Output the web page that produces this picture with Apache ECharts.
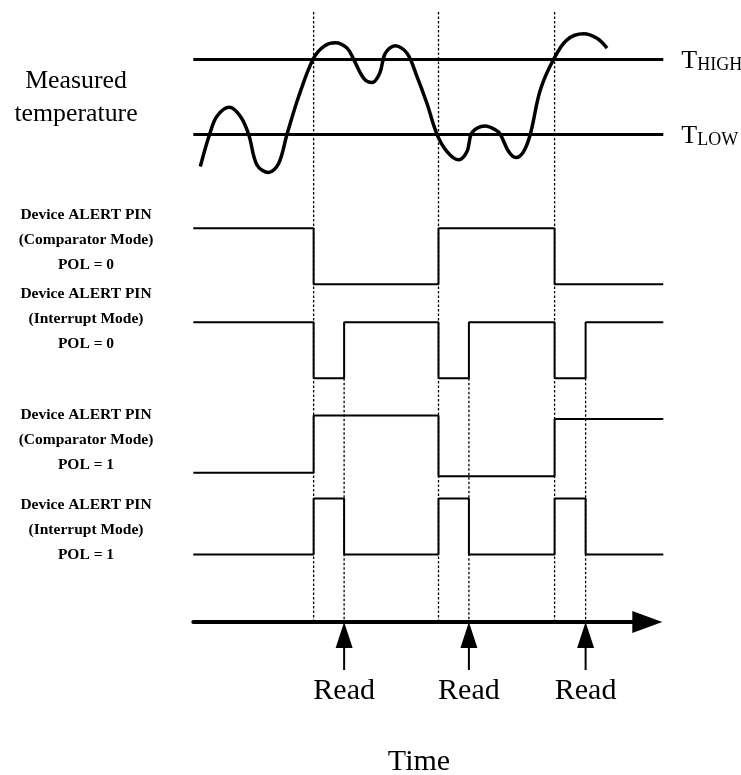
<!DOCTYPE html>
<html><head><meta charset="utf-8">
<script src="https://cdn.jsdelivr.net/npm/echarts@6/dist/echarts.min.js"></script>
<style>html,body{margin:0;padding:0;background:#fff;} #c{width:741px;height:775px;}</style>
</head><body><div id="c"></div>
<script>
// ---- data (time in arbitrary units 0..100) ----
const eventTimes = [25.6, 52.17, 76.87];      // temperature crosses a threshold
const readTimes  = [32.09, 58.64, 83.47];     // host reads the device
const readLabels = ['Read', 'Read', 'Read'];
const thresholdValues = [30, 20];
const thresholdNames  = ['HIGH', 'LOW'];
const tempTime  = [1.49, 3.47, 5.04, 7.66, 10.0, 11.77, 13.55, 16.02, 18.15, 19.94, 22.40, 25.47, 27.72, 30.21, 32.70, 34.11, 36.23, 38.02, 39.64, 40.85, 42.98, 45.47, 47.6, 49.72, 51.85, 53.98, 56.45, 58.23, 59.09, 60.36, 62.13, 64.26, 65.32, 67.09, 68.66, 70.28, 71.70, 73.83, 76.66, 79.51, 83.04, 85.89, 88.02];
const tempValue = [15.7, 20.0, 22.4, 23.6, 22.4, 20.0, 15.9, 14.9, 16.1, 20.0, 25.0, 30.0, 31.7, 32.2, 31.5, 30.0, 27.5, 26.9, 28.1, 30.8, 31.8, 30.8, 27.7, 24.1, 20.0, 17.7, 16.6, 17.7, 20.0, 20.8, 21.1, 20.6, 20.0, 17.7, 16.9, 17.7, 20.0, 25.9, 30.0, 32.6, 33.4, 32.8, 31.5];
// signal levels between successive changes
const compPol0Levels = [1, 0, 1, 0];
const intPol0Levels  = [1, 0, 1, 0, 1, 0, 1];
const compPol1Levels = [0, 1, -0.06, 0.94];
const intPol1Levels  = [0, 1, 0, 1, 0, 1, 0];
const pinTitle = 'Device ALERT PIN';
const pinModes = ['(Comparator Mode)', '(Interrupt Mode)', '(Comparator Mode)', '(Interrupt Mode)'];
const pinPols  = ['POL = 0', 'POL = 0', 'POL = 1', 'POL = 1'];
const tempLabel = ['Measured', 'temperature'];
const timeLabel = 'Time';

// ---- layout ----
const SERIF = '"Liberation Serif", "Times New Roman", serif';
const T_MAX = 100;
const L = 193.3, W = 470;
const ARROW_END = 647.3;
const compTimes = [0].concat(eventTimes);
const intTimes = [0, eventTimes[0], readTimes[0], eventTimes[1], readTimes[1], eventTimes[2], readTimes[2]];
function steps(times, levels) {
  const d = times.map((t, i) => [t, levels[i]]);
  d.push([T_MAX, levels[levels.length - 1]]);
  return d;
}
const grids = [
  {left: L, width: W, top: 14.3, height: 165},     // temperature
  {left: L, width: W, top: 228.3, height: 56},     // comp pol0
  {left: L, width: W, top: 322.3, height: 56},     // int pol0
  {left: L, width: W, top: 415.5, height: 57.2},   // comp pol1
  {left: L, width: W, top: 498.5, height: 56},     // int pol1
  {left: L, width: ARROW_END - L, top: 12, height: 610},   // event guides + time axis
  {left: L, width: W, top: 378.3, height: 243.7}   // read guides
];
const xAxes = grids.map((g, i) => ({
  gridIndex: i, type: 'value', min: 0,
  max: i === 5 ? T_MAX * (ARROW_END - L) / W : T_MAX,
  show: i === 5,
  axisLine: {show: true, onZero: false, symbol: ['none', 'triangle'], symbolSize: [22, 30],
             lineStyle: {color: '#000', width: 4}},
  axisTick: {show: false}, axisLabel: {show: false}, splitLine: {show: false}
}));
const yAxes = grids.map((g, i) => ({
  gridIndex: i, type: 'value', show: false,
  min: i === 0 ? 14 : 0, max: i === 0 ? 36 : 1, splitLine: {show: false}
}));
function stepSeries(idx, data) {
  return {type: 'line', xAxisIndex: idx, yAxisIndex: idx, step: 'end', data: data,
    symbol: 'none', clip: false, silent: true,
    lineStyle: {color: '#000', width: 2}};
}
const dash = {stroke: '#000', lineWidth: 1.3, lineDash: [2.5, 2]};
const option = {
  animation: false,
  grid: grids,
  xAxis: xAxes,
  yAxis: yAxes,
  series: [
    {
      type: 'line', xAxisIndex: 0, yAxisIndex: 0, smooth: 0.35, symbol: 'none', clip: false, silent: true,
      data: tempTime.map((t, i) => [t, tempValue[i]]),
      lineStyle: {color: '#000', width: 3.5},
      markLine: {
        silent: true, symbol: 'none', animation: false, emphasis: {disabled: true},
        lineStyle: {type: 'solid', color: '#000', width: 3},
        label: {
          show: true, position: 'end', distance: 18,
          formatter: p => '{t|T}{s|' + p.name + '}',
          rich: {
            t: {fontSize: 26, fontFamily: SERIF, color: '#000', lineHeight: 30, verticalAlign: 'bottom'},
            s: {fontSize: 18, fontFamily: SERIF, color: '#000', lineHeight: 20, verticalAlign: 'bottom'}
          }
        },
        data: thresholdValues.map((v, i) => ({yAxis: v, name: thresholdNames[i]}))
      }
    },
    stepSeries(1, steps(compTimes, compPol0Levels)),
    stepSeries(2, steps(intTimes, intPol0Levels)),
    stepSeries(3, steps(compTimes, compPol1Levels)),
    stepSeries(4, steps(intTimes, intPol1Levels)),
    {
      type: 'custom', xAxisIndex: 5, yAxisIndex: 5, clip: false, silent: true,
      data: eventTimes.map(t => [t, 0]),
      renderItem: (params, api) => {
        const t = api.value(0);
        const a = api.coord([t, 1]), b = api.coord([t, 0]);
        return {type: 'line', shape: {x1: a[0], y1: a[1], x2: b[0], y2: b[1]}, style: dash};
      }
    },
    {
      type: 'custom', xAxisIndex: 6, yAxisIndex: 6, clip: false, silent: true,
      data: readTimes.map(t => [t, 0]),
      renderItem: (params, api) => {
        const t = api.value(0);
        const a = api.coord([t, 1]), b = api.coord([t, 0]);
        const x = b[0], y = b[1];
        return {type: 'group', children: [
          {type: 'line', shape: {x1: a[0], y1: a[1], x2: x, y2: y}, style: dash},
          {type: 'polygon', shape: {points: [[x, y], [x - 8.5, y + 26], [x + 8.5, y + 26]]}, style: {fill: '#000'}},
          {type: 'line', shape: {x1: x, y1: y + 24, x2: x, y2: y + 48}, style: {stroke: '#000', lineWidth: 2}},
          {type: 'text', x: x, y: y + 69, style: {text: readLabels[params.dataIndex], fontSize: 30, fontFamily: SERIF, fill: '#000',
            align: 'center', verticalAlign: 'middle', textAlign: 'center', textVerticalAlign: 'middle'}}
        ]};
      }
    }
  ],
  graphic: [
    {type: 'text', x: 76, y: 98, style: {text: tempLabel.join('\n'), fontSize: 25.8, fontFamily: SERIF, fill: '#000', lineHeight: 33,
      align: 'center', verticalAlign: 'middle', textAlign: 'center', textVerticalAlign: 'middle'}},
    {type: 'text', x: 419, y: 762, style: {text: timeLabel, fontSize: 30, fontFamily: SERIF, fill: '#000',
      align: 'center', verticalAlign: 'middle', textAlign: 'center', textVerticalAlign: 'middle'}}
  ].concat([239.8, 318.8, 439.8, 530].map((cy, i) => ({
    type: 'text', x: 86, y: cy,
    style: {text: [pinTitle, pinModes[i], pinPols[i]].join('\n'), fontSize: 15.5, fontWeight: 'bold', fontFamily: SERIF,
      fill: '#000', lineHeight: 25, align: 'center', verticalAlign: 'middle', textAlign: 'center', textVerticalAlign: 'middle'}
  })))
};
const chart = echarts.init(document.getElementById('c'), null, {renderer: 'canvas'});
chart.setOption(option);
</script>
</body></html>
